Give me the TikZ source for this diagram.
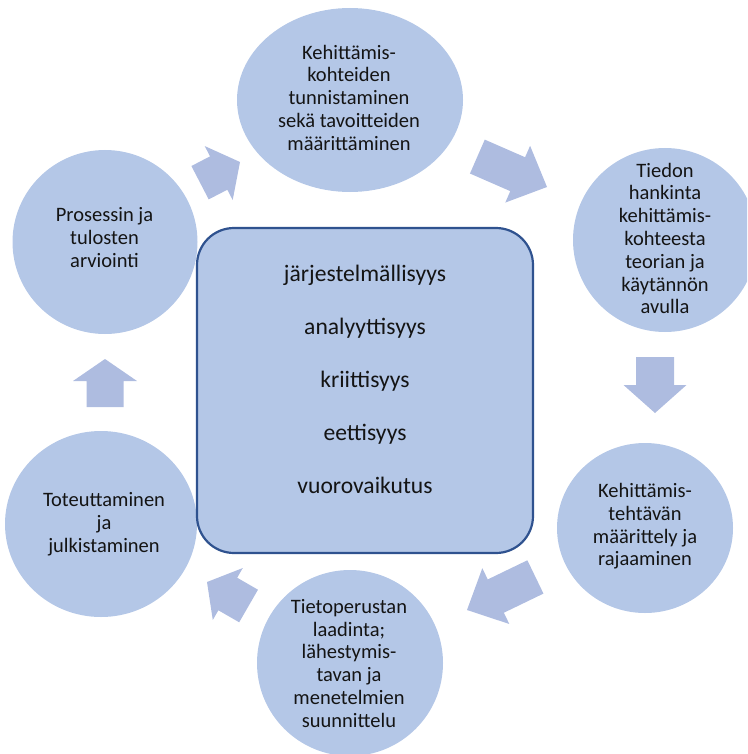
\documentclass[tikz,border=0pt]{standalone}
\usepackage{fontspec}
\setmainfont{Carlito}
\usetikzlibrary{shapes.geometric}

\definecolor{stagefill}{RGB}{180,199,231}
\definecolor{arrowfill}{RGB}{174,188,224}
\definecolor{frameblue}{RGB}{47,82,143}

\tikzset{
  stage/.style={ellipse, fill=stagefill, inner sep=0pt, outer sep=0pt},
  stagetext/.style={align=center, inner sep=0pt, text=black!92,
    font=\fontsize{20.5}{22.8}\selectfont},
  core/.style={rectangle, rounded corners=37pt, fill=stagefill,
    draw=frameblue, line width=2.2pt, inner sep=0pt},
  valuetext/.style={anchor=base, inner sep=0pt, text=black!92,
    font=\fontsize{23.6}{28}\selectfont},
}

% block arrow: tip x, tip y, direction, head length, shaft length,
% half shaft width, half head width
\newcommand\cyclearrow[7]{%
  \begin{scope}[shift={(#1,#2)},rotate=#3]
    \fill[arrowfill] (0,0) -- (-#4,#7) -- (-#4,#6) -- ({-#4-#5},#6)
      -- ({-#4-#5},-#6) -- (-#4,-#6) -- (-#4,-#7) -- cycle;
  \end{scope}}

\begin{document}
\begin{tikzpicture}[x=1pt,y=-1pt]
\useasboundingbox (0,0) rectangle (747,754);
\clip (0,0) rectangle (747,754);

% the six stages of the cycle
\node[stage, minimum width=226pt, minimum height=184pt] (s1) at (350,100) {};
\node[stage, minimum width=184pt, minimum height=184pt] (s2) at (665,240) {};
\node[stage, minimum width=176pt, minimum height=170pt] (s3) at (645,528) {};
\node[stage, minimum width=186pt, minimum height=186pt] (s4) at (350,663) {};
\node[stage, minimum width=192pt, minimum height=186pt] (s5) at (101,524) {};
\node[stage, minimum width=185pt, minimum height=184pt] (s6) at (105,242) {};

\node[stagetext] (t1) at (349,97.6) {Kehittämis-\\kohteiden\\tunnistaminen\\sekä tavoitteiden\\määrittäminen};
\node[stagetext] (t2) at (665,238.5) {Tiedon\\hankinta\\kehittämis-\\kohteesta\\teorian ja\\käytännön\\avulla};
\node[stagetext] (t3) at (645,526.3) {Kehittämis-\\tehtävän\\määrittely ja\\rajaaminen};
\node[stagetext] (t4) at (349,663.4) {Tietoperustan\\laadinta;\\lähestymis-\\tavan ja\\menetelmien\\suunnittelu};
\node[stagetext] (t5) at (104,523.9) {Toteuttaminen\\ja\\julkistaminen};
\node[stagetext] (t6) at (104.5,237.5) {Prosessin ja\\tulosten\\arviointi};

% central box with the guiding principles
\node[core, minimum width=336pt, minimum height=325pt] (core) at (365,390.5) {};
\node[valuetext] (v1) at (365,281.5) {järjestelmällisyys};
\node[valuetext] (v2) at (365,334) {analyyttisyys};
\node[valuetext] (v3) at (365,387) {kriittisyys};
\node[valuetext] (v4) at (365,440) {eettisyys};
\node[valuetext] (v5) at (365,493) {vuorovaikutus};

% arrows between the stages
\cyclearrow{240}{162}{27.4}{24}{21}{18.8}{30.4}
\cyclearrow{547}{187}{-23.6}{32}{44}{18.5}{31}
\cyclearrow{655}{413}{-90}{28}{28}{19}{31.5}
\cyclearrow{467}{610}{205.8}{32}{44}{18.5}{31}
\cyclearrow{207}{582}{150}{24}{24}{18.8}{30}
\cyclearrow{105}{359}{90}{22}{26}{18.5}{32}
\end{tikzpicture}
\end{document}
